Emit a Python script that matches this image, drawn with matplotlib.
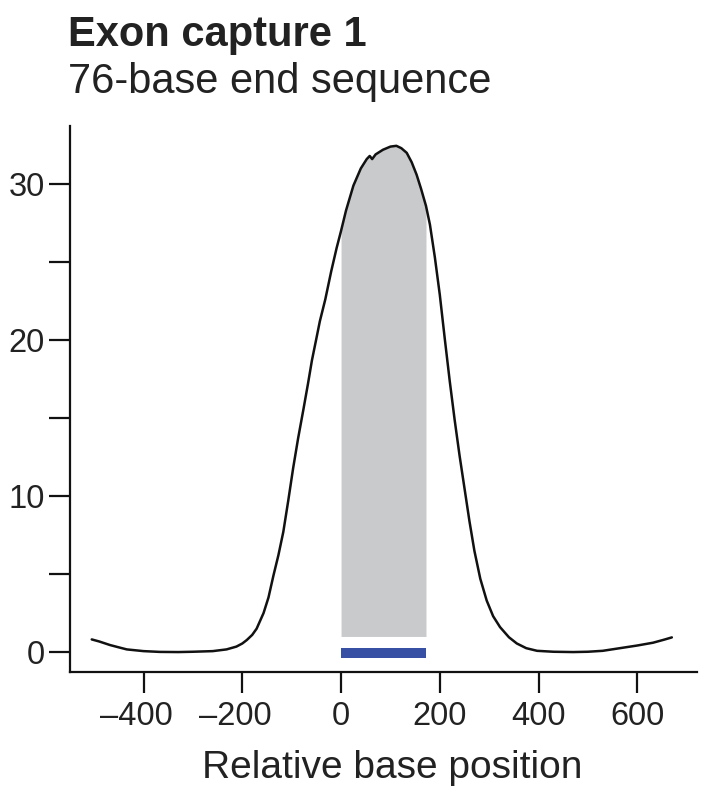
import matplotlib
matplotlib.use("Agg")
import matplotlib.pyplot as plt
from matplotlib.transforms import ScaledTranslation
import numpy as np

plt.rcParams['font.family'] = ['Liberation Sans', 'DejaVu Sans']

# ---- data ----
pos = [-505, -490, -468, -450, -434, -400, -367, -330, -300, -260, -232, -212,
       -200, -191, -180, -171, -164, -157, -147, -137, -127, -117, -107, -97,
       -87, -76, -67, -59, -50, -43, -32, -20, -9, 0, 10, 25, 40, 52, 58, 63,
       70, 85, 100, 112, 122, 133, 143, 153, 162, 172, 180, 190, 200, 210, 220,
       230, 240, 250, 260, 270, 282, 295, 308, 322, 340, 356, 375, 397, 430,
       470, 500, 530, 565, 600, 632, 655, 670]
depth = [0.81, 0.68, 0.45, 0.30, 0.17, 0.06, 0.01, 0.0, 0.02, 0.06, 0.17, 0.35,
         0.55, 0.77, 1.1, 1.5, 2.0, 2.5, 3.5, 4.9, 6.2, 7.7, 9.7, 11.8,
         13.7, 15.6, 17.2, 18.7, 20.1, 21.2, 22.6, 24.4, 25.9, 27.0, 28.3, 29.9, 31.0, 31.6, 31.8, 31.6,
         31.9, 32.2, 32.4, 32.45, 32.3, 32.0, 31.4, 30.6, 29.7, 28.6, 27.4, 25.3, 22.9, 20.1, 17.4,
         14.9, 12.6, 10.5, 8.4, 6.5, 4.7, 3.3, 2.3, 1.6, 0.95, 0.55, 0.25, 0.08, 0.02,
         0.0, 0.02, 0.08, 0.25, 0.42, 0.60, 0.80, 0.94]
region_start, region_end = 0, 172
shade_floor = 1.0
bar_bottom, bar_top = -0.37, 0.28

xticks = [-400, -200, 0, 200, 400, 600]
xtick_labels = ['\u2013400', '\u2013200', '0', '200', '400', '600']
yticks = [0, 10, 20, 30]
yminor = [5, 15, 25]

title = 'Exon capture 1'
subtitle = '76-base end sequence'
xlabel = 'Relative base position'

# ---- figure ----
fig = plt.figure(figsize=(7.03, 7.97), dpi=100)
ax = fig.add_axes([0.0996, 0.1568, 0.8919, 0.6851])

pos_a = np.array(pos, dtype=float)
dep_a = np.array(depth, dtype=float)
mask = (pos_a >= region_start) & (pos_a <= region_end)
ax.fill_between(pos_a[mask], shade_floor, dep_a[mask], color='#c9cacc', lw=0, zorder=1)
ax.fill_between([region_start, region_end], bar_bottom, bar_top, color='#3750a3', lw=0, zorder=2)
ax.plot(pos_a, dep_a, color='#111111', lw=1.8, zorder=3,
        solid_capstyle='round', solid_joinstyle='round')

ax.set_xlim(-549, 721)
ax.set_ylim(-1.28, 33.72)
ax.set_xticks(xticks)
ax.set_xticklabels(xtick_labels)
ax.set_yticks(yticks)
ax.set_yticks(yminor, minor=True)

for s in ['top', 'right']:
    ax.spines[s].set_visible(False)
for s in ['left', 'bottom']:
    ax.spines[s].set_linewidth(1.6)
    ax.spines[s].set_color('#111111')

ax.tick_params(axis='both', which='both', direction='out', length=15, width=1.6,
               color='#111111', labelsize=23.5, labelcolor='#222222')
ax.tick_params(axis='y', which='both', pad=3)
ax.tick_params(axis='x', which='both', pad=6)

# negative labels sit slightly left of their ticks in the reference
for lab in ax.get_xticklabels():
    if lab.get_text().startswith('\u2013'):
        lab.set_transform(lab.get_transform() + ScaledTranslation(-7 / 100, 0, fig.dpi_scale_trans))

fig.text(68 / 703, 1 - 35 / 797, title, fontsize=30, fontweight='bold',
         ha='left', va='center', color='#222222')
fig.text(68 / 703, 1 - 82 / 797, subtitle, fontsize=30,
         ha='left', va='center', color='#222222')
fig.text(392 / 703, 1 - 768 / 797, xlabel, fontsize=28,
         ha='center', va='center', color='#222222')

fig.savefig('out.png', dpi=100)
